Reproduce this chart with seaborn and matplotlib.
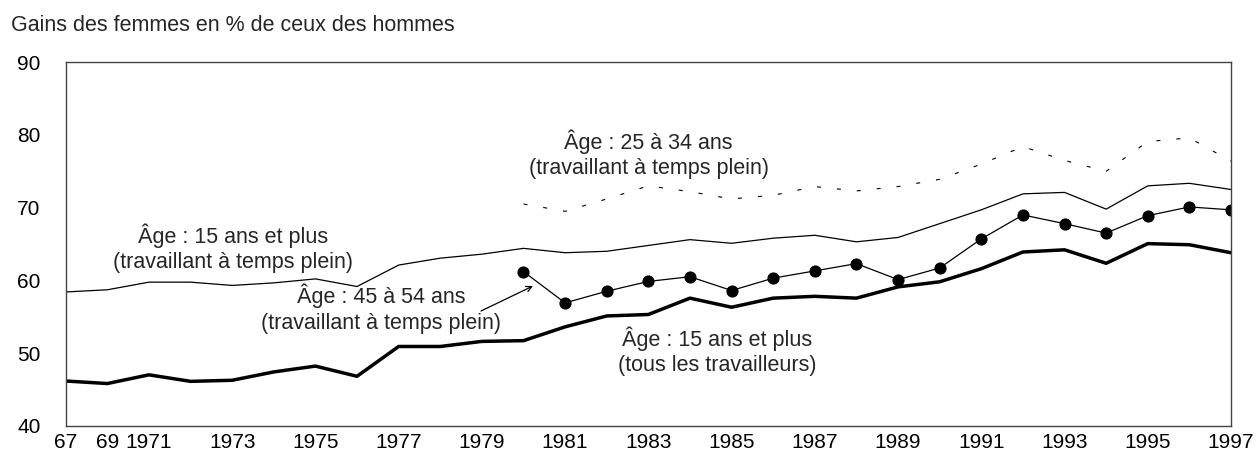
import numpy as np
import pandas as pd
import matplotlib
matplotlib.use("Agg")
import matplotlib.pyplot as plt
import seaborn as sns

# ---------------- data ----------------
years = [1967, 1969] + list(range(1971, 1998))
tick_labels = ["67", "69", "1971", "", "1973", "", "1975", "", "1977", "", "1979", "",
               "1981", "", "1983", "", "1985", "", "1987", "", "1989", "", "1991", "",
               "1993", "", "1995", "", "1997"]

tous_travailleurs = [46.15, 45.8, 47.0, 46.1, 46.25, 47.4, 48.2, 46.8, 50.9, 50.9,
                     51.6, 51.7, 53.6, 55.1, 55.3, 57.55, 56.3, 57.55, 57.8, 57.55,
                     59.1, 59.8, 61.6, 63.9, 64.2, 62.35, 65.05, 64.9, 63.8]
temps_plein_15 = [58.4, 58.7, 59.75, 59.75, 59.3, 59.65, 60.2, 59.15, 62.1, 63.05,
                  63.6, 64.4, 63.8, 64.0, 64.8, 65.6, 65.1, 65.8, 66.2, 65.3,
                  65.9, 67.8, 69.7, 71.9, 72.1, 69.8, 73.0, 73.35, 72.5]
years_sub = list(range(1980, 1998))
age_45_54 = [61.2, 56.9, 58.5, 59.85, 60.5, 58.6, 60.3, 61.3, 62.3, 60.1,
             61.7, 65.7, 69.0, 67.8, 66.5, 68.9, 70.1, 69.7]
age_25_34 = [70.5, 69.5, 71.2, 73.0, 72.2, 71.2, 71.7, 72.9, 72.3, 72.9,
             73.9, 76.0, 78.4, 76.5, 75.0, 79.1, 79.6, 76.4]

title = "Gains des femmes en % de ceux des hommes"

# ---------------- plot ----------------
sns.set_style("white")
plt.rcParams['font.family'] = ['Liberation Sans', 'DejaVu Sans']

W, H = 1257, 465
fig = plt.figure(figsize=(W / 100, H / 100), dpi=100)
ax_l, ax_r, ax_t, ax_b = 65.7, 1231.0, 62.3, 425.7
ax = fig.add_axes([ax_l / W, 1 - ax_b / H, (ax_r - ax_l) / W, (ax_b - ax_t) / H])

pos_all = np.arange(len(years))
pos_sub = np.array([years.index(y) for y in years_sub])

df_all = pd.DataFrame({"pos": pos_all, "tous": tous_travailleurs, "tp": temps_plein_15})
df_sub = pd.DataFrame({"pos": pos_sub, "a45": age_45_54, "a25": age_25_34})

sns.lineplot(data=df_all, x="pos", y="tous", color="black", lw=2.5, ax=ax)
sns.lineplot(data=df_all, x="pos", y="tp", color="black", lw=0.9, ax=ax)
sns.lineplot(data=df_sub, x="pos", y="a45", color="black", lw=0.9, marker="o",
             markersize=8, markeredgecolor="black", markerfacecolor="black", ax=ax)
sns.lineplot(data=df_sub, x="pos", y="a25", color="black", lw=0.8,
             linestyle=(0, (3.6, 14.4)), ax=ax)

ax.set_xlim(0, len(years) - 1)
ax.set_ylim(40, 90)
ax.set_xticks(pos_all)
ax.set_xticklabels(tick_labels)
ax.set_yticks([40, 50, 60, 70, 80, 90])
ax.set_xlabel("")
ax.set_ylabel("")
ax.tick_params(axis="both", direction="in", length=12.2, width=0.9, color="#333333",
               labelsize=15, labelcolor="black")
ax.tick_params(axis="y", pad=18)
ax.tick_params(axis="x", pad=5)
for s in ax.spines.values():
    s.set_visible(True)
    s.set_color("#444444")
    s.set_linewidth(1.0)

def fp(x, y):
    return (x / W, 1 - y / H)

fig.text(*fp(11, 31), title, ha="left", va="baseline", fontsize=15.5)

ann_kw = dict(ha="center", va="center", fontsize=15.5, transform=fig.transFigure)
fig.text(*fp(233, 236), "Âge : 15 ans et plus", **ann_kw)
fig.text(*fp(233, 262), "(travaillant à temps plein)", **ann_kw)
fig.text(*fp(381, 296), "Âge : 45 à 54 ans", **ann_kw)
fig.text(*fp(381, 323), "(travaillant à temps plein)", **ann_kw)
fig.text(*fp(648, 142), "Âge : 25 à 34 ans", **ann_kw)
fig.text(*fp(649, 168), "(travaillant à temps plein)", **ann_kw)
fig.text(*fp(717, 339), "Âge : 15 ans et plus", **ann_kw)
fig.text(*fp(717, 365), "(tous les travailleurs)", **ann_kw)

ax.annotate("", xy=fp(533, 286), xytext=fp(481, 311), xycoords="figure fraction",
            textcoords="figure fraction",
            arrowprops=dict(arrowstyle="->", color="black", lw=0.9,
                            shrinkA=0, shrinkB=0))

fig.savefig("out.png", dpi=100)
